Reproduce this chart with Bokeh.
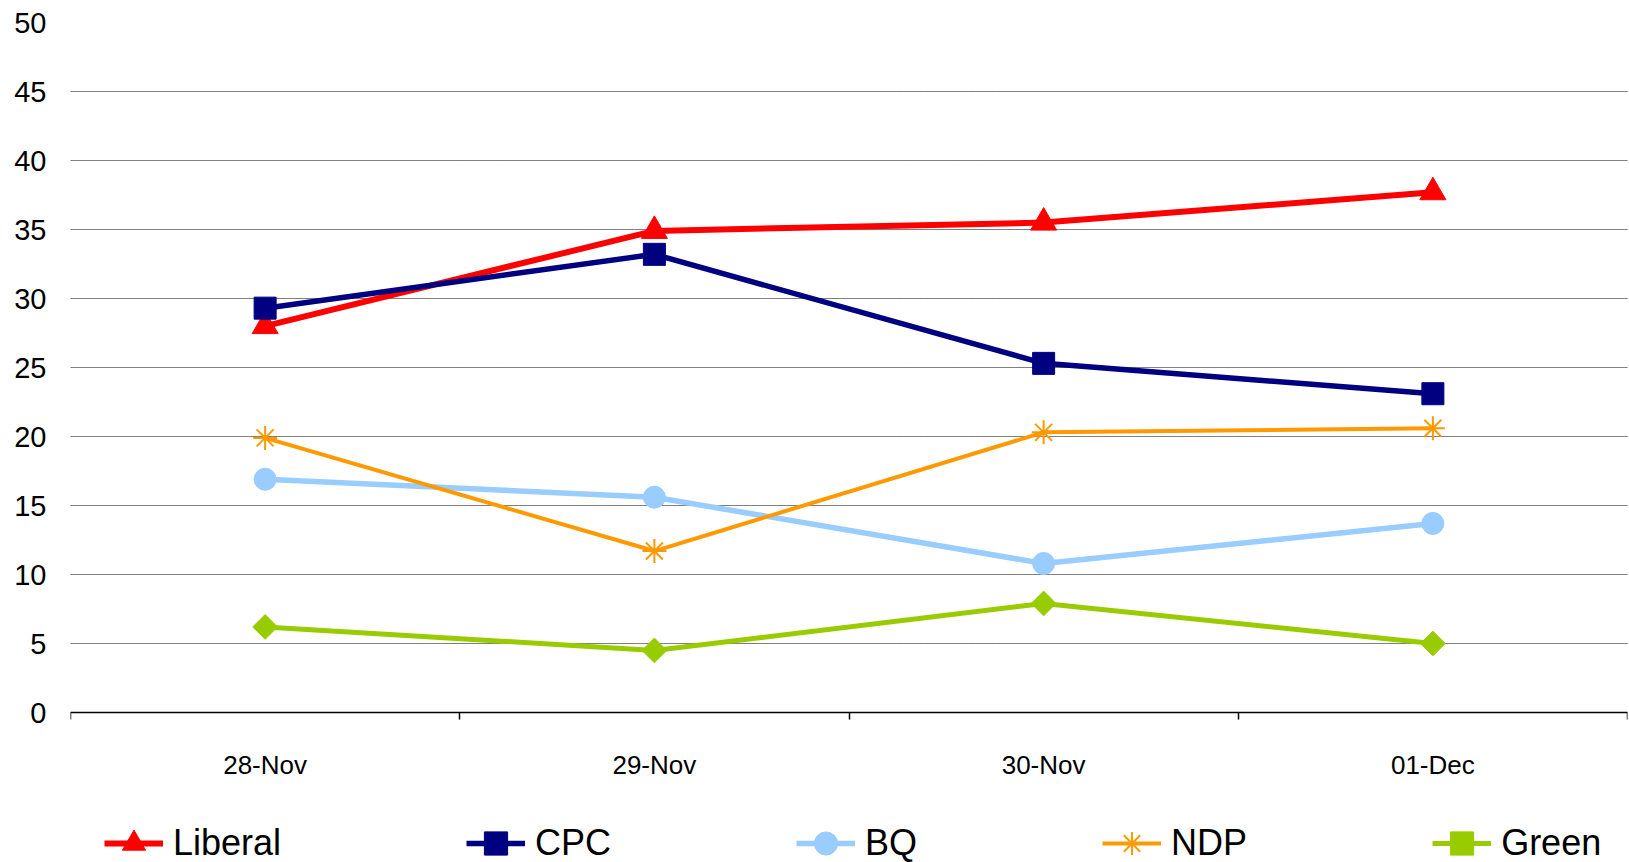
import math
from bokeh.plotting import figure
from bokeh.models import Range1d, FixedTicker, Legend, LegendItem
from bokeh.embed import file_html
from bokeh.resources import INLINE

# ---- data ----
dates = ["28-Nov", "29-Nov", "30-Nov", "01-Dec"]
liberal = [28.0, 34.9, 35.5, 37.7]
cpc = [29.3, 33.2, 25.3, 23.1]
bq = [16.9, 15.6, 10.8, 13.7]
ndp = [19.9, 11.7, 20.3, 20.6]
green = [6.2, 4.5, 7.9, 5.0]
y_ticks = [0, 5, 10, 15, 20, 25, 30, 35, 40, 45, 50]

FONT = "Liberation Sans"

x = [i + 0.5 for i in range(len(dates))]

# frame runs to the bottom of the page; value 0 sits 150px above it
H, TOP = 862, 22
px_per_unit = (712 - TOP) / 50.0
y_low = -(H - 712) / px_per_unit

p = figure(width=1629, height=H, output_backend="svg", toolbar_location=None,
           x_range=Range1d(0, len(dates)), y_range=Range1d(y_low, 50),
           min_border_left=70, min_border_right=2, min_border_top=TOP,
           min_border_bottom=0)
p.outline_line_color = None
p.background_fill_color = "white"
p.border_fill_color = "white"

# grid
p.xgrid.visible = False
p.ygrid.grid_line_color = "#000000"
p.ygrid.grid_line_dash = "1 1"
p.ygrid.grid_line_width = 1
p.ygrid.ticker = FixedTicker(ticks=y_ticks)

# y axis
p.yaxis.ticker = FixedTicker(ticks=y_ticks)
p.yaxis.axis_line_color = None
p.yaxis.major_tick_line_color = None
p.yaxis.minor_tick_line_color = None
p.yaxis.major_tick_out = 0
p.yaxis.major_label_standoff = 24
p.yaxis.major_label_text_font = FONT
p.yaxis.major_label_text_font_size = "29px"
p.yaxis.major_label_text_color = "black"

# x axis, pinned at value 0
p.xaxis.fixed_location = 0
p.xaxis.ticker = FixedTicker(ticks=x, minor_ticks=list(range(len(dates) + 1)))
p.xaxis.major_label_overrides = {xi: d for xi, d in zip(x, dates)}
p.xaxis.axis_line_color = "black"
p.xaxis.axis_line_width = 1.5
p.xaxis.major_tick_line_color = None
p.xaxis.major_tick_out = 0
p.xaxis.major_tick_in = 0
p.xaxis.minor_tick_line_color = "black"
p.xaxis.minor_tick_line_width = 1.5
p.xaxis.minor_tick_out = 7
p.xaxis.minor_tick_in = 0
p.xaxis.major_label_standoff = 30
p.xaxis.major_label_text_font = FONT
p.xaxis.major_label_text_font_size = "26px"
p.xaxis.major_label_text_color = "black"

series = [
    ("Liberal", liberal, "#FF0000", 6, "triangle", 26, 0.0),
    ("CPC", cpc, "#000080", 5.5, "square", 22, 0.0),
    ("BQ", bq, "#99CCFF", 5.5, "circle", 22, 0.0),
    ("NDP", ndp, "#FF9900", 4, "asterisk", 24, 0.0),
    ("Green", green, "#99CC00", 5, "square", 17.5, math.pi / 4),
]

items = []
for name, vals, color, lw, marker, size, ang in series:
    lr = p.line(x, vals, line_color=color, line_width=lw)
    if marker == "asterisk":
        sr = p.scatter(x, vals, marker=marker, size=size, line_color=color,
                       line_width=2)
    else:
        sr = p.scatter(x, vals, marker=marker, size=size, fill_color=color,
                       line_color=color, line_width=1, angle=ang)
    items.append(LegendItem(label=name, renderers=[lr, sr]))

legend = Legend(items=items, orientation="horizontal", location=(34, -10),
                spacing=185, padding=0, margin=0, glyph_width=59, glyph_height=58,
                label_standoff=10, label_text_font=FONT,
                label_text_font_size="36px", label_text_color="black",
                border_line_color=None, background_fill_alpha=0)
p.add_layout(legend, "center")

open("out.html", "w").write(file_html(p, INLINE))
